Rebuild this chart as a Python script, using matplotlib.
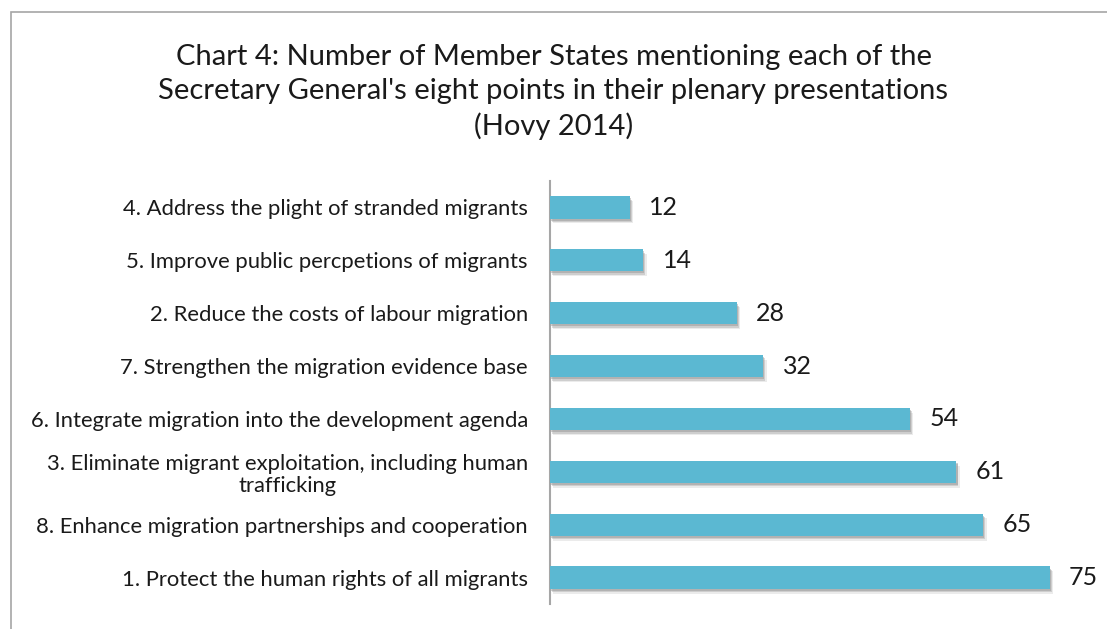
import matplotlib.pyplot as plt
import matplotlib.patheffects as pe
from matplotlib.patches import Rectangle

# 各项被提及的成员国数量
points = [
    "4. Address the plight of stranded migrants",
    "5. Improve public percpetions of migrants",
    "2. Reduce the costs of labour migration",
    "7. Strengthen the migration evidence base",
    "6. Integrate migration into the development agenda",
    "3. Eliminate migrant exploitation, including human\ntrafficking",
    "8. Enhance migration partnerships and cooperation",
    "1. Protect the human rights of all migrants",
]
counts = [12, 14, 28, 32, 54, 61, 65, 75]

plt.rcParams['font.family'] = ['Lato', 'DejaVu Sans']

fig = plt.figure(figsize=(11.07, 6.29), dpi=100)
# 外框（右下被裁掉）
fig.patches.append(Rectangle((11 / 1107, -0.1), 1.2, 1 - 12 / 629 + 0.1,
                             transform=fig.transFigure, fill=False,
                             edgecolor='#a6a6a6', linewidth=1.2))

fig.text(0.5, 1 - 92 / 629,
         "Chart 4: Number of Member States mentioning each of the\n"
         "Secretary General's eight points in their plenary presentations\n"
         "(Hovy 2014)",
         ha='center', va='center', fontsize=21, linespacing=1.38,
         color='#1a1a1a')

ax = fig.add_axes([550 / 1107, 1 - 604 / 629, 533 / 1107, (604 - 181) / 629])
ypos = list(range(len(points)))
bars = ax.barh(ypos, counts, height=0.42, color='#5bb8d2', zorder=3)
# 柔和阴影
for b in bars:
    b.set_path_effects([
        pe.SimplePatchShadow(offset=(2.5, -3.5), shadow_rgbFace='#b0b0b0', alpha=0.25),
        pe.SimplePatchShadow(offset=(1.5, -2.5), shadow_rgbFace='#999999', alpha=0.35),
        pe.SimplePatchShadow(offset=(0.8, -1.5), shadow_rgbFace='#888888', alpha=0.4),
        pe.Normal()])

for y, v in zip(ypos, counts):
    ax.text(v + 2.9, y, str(v), va='center', ha='left', fontsize=18,
            color='#1a1a1a')

ax.set_xlim(0, 80)
ax.set_ylim(len(points) - 0.5, -0.5)
ax.set_yticks(ypos)
ax.set_yticklabels(points, fontsize=15.8, color='#1a1a1a', multialignment='center',
                   linespacing=1.12)
ax.tick_params(axis='y', length=0, pad=16)
ax.set_xticks([])
for s in ['top', 'right', 'bottom']:
    ax.spines[s].set_visible(False)
ax.spines['left'].set_color('#a6a6a6')
ax.spines['left'].set_linewidth(1.5)

fig.savefig('out.png', dpi=100)
